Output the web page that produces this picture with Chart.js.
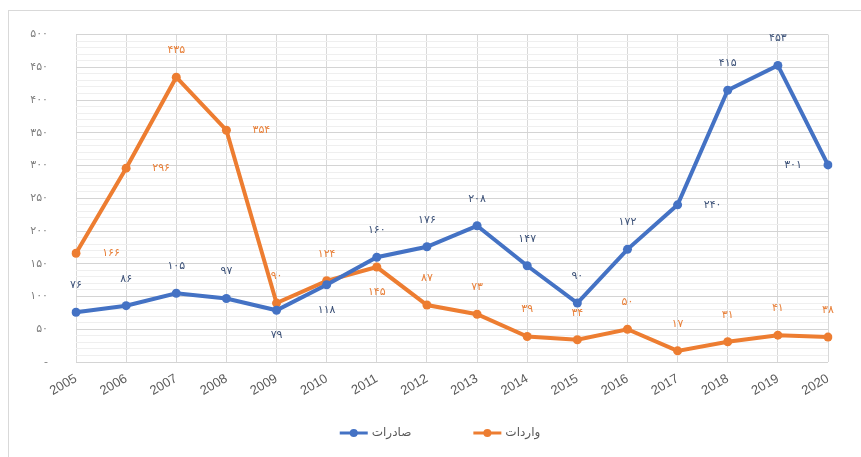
<!DOCTYPE html>
<html>
<head>
<meta charset="utf-8">
<script src="https://cdn.jsdelivr.net/npm/chart.js@4.4.1/dist/chart.umd.min.js"></script>
<style>
    html, body { margin: 0; padding: 0; background: #fff; }
    #marco { position: absolute; left: 8px; top: 10px; width: 900px; height: 500px; border: 1px solid #d9d9d9; }
    #grafico { position: absolute; left: 0; top: 0; }
</style>
</head>
<body>
<div id="marco"></div>
<canvas id="grafico" width="861" height="457"></canvas>
<script>
// Datos del gráfico
const anios = ['2005', '2006', '2007', '2008', '2009', '2010', '2011', '2012', '2013', '2014', '2015', '2016', '2017', '2018', '2019', '2020'];
const saderat = [76, 86, 105, 97, 79, 118, 160, 176, 208, 147, 90, 172, 240, 415, 453, 301];
const varedat = [166, 296, 435, 354, 90, 124, 145, 87, 73, 39, 34, 50, 17, 31, 41, 38];
const nombres = ['صادرات', 'واردات'];

const AZUL = '#4472C4';
const NARANJA = '#ED7D31';

// Posición de cada etiqueta: t arriba, b abajo, r derecha, l izquierda
const posEtiquetas = [
    ['t', 't', 't', 't', 'b', 'b', 't', 't', 't', 't', 't', 't', 'r', 't', 't', 'l'],
    ['r', 'r', 't', 'r', 't', 't', 'b', 't', 't', 't', 't', 't', 't', 't', 't', 't']
];

// Números en cifras persas
function aFarsi(n) {
    return String(n).replace(/\d/g, d => '۰۱۲۳۴۵۶۷۸۹'[d]);
}

// Etiquetas de datos junto a cada punto
const etiquetasPlugin = {
    id: 'etiquetas',
    afterDatasetsDraw(chart) {
        const ctx = chart.ctx;
        ctx.save();
        ctx.font = '11px "DejaVu Sans"';
        ctx.textAlign = 'center';
        ctx.textBaseline = 'middle';
        chart.data.datasets.forEach((ds, i) => {
            const meta = chart.getDatasetMeta(i);
            ctx.fillStyle = i === 0 ? '#3E5379' : '#E8803A';
            meta.data.forEach((pt, j) => {
                let x = pt.x, y = pt.y;
                const p = posEtiquetas[i][j];
                if (p === 't') y -= 27;
                else if (p === 'b') y += 25;
                else if (p === 'r') x += 35;
                else if (p === 'l') x -= 35;
                ctx.fillText(aFarsi(ds.data[j]), x, y);
            });
        });
        ctx.restore();
    }
};

// Leyenda estilo Excel: línea con marcador y texto
const leyendaPlugin = {
    id: 'leyenda',
    afterDraw(chart) {
        const ctx = chart.ctx;
        ctx.save();
        ctx.font = '12px "DejaVu Sans"';
        ctx.textBaseline = 'middle';
        const y = 433;
        const gap = 62;
        const anchos = chart.data.datasets.map(ds => 28 + 4 + ctx.measureText(ds.label).width);
        const total = anchos.reduce((a, b) => a + b, 0) + gap * (anchos.length - 1);
        let x = 440 - total / 2;
        chart.data.datasets.forEach((ds, i) => {
            ctx.strokeStyle = ds.borderColor;
            ctx.lineWidth = 3;
            ctx.beginPath();
            ctx.moveTo(x, y);
            ctx.lineTo(x + 28, y);
            ctx.stroke();
            ctx.fillStyle = ds.borderColor;
            ctx.beginPath();
            ctx.arc(x + 14, y, 4, 0, Math.PI * 2);
            ctx.fill();
            ctx.fillStyle = '#595959';
            ctx.textAlign = 'left';
            ctx.fillText(ds.label, x + 32, y);
            x += anchos[i] + gap;
        });
        ctx.restore();
    }
};

const ctx = document.getElementById('grafico').getContext('2d');
new Chart(ctx, {
    type: 'line',
    data: {
        labels: anios,
        datasets: [
            {
                label: nombres[0],
                data: saderat,
                borderColor: AZUL,
                backgroundColor: AZUL,
                borderWidth: 4,
                pointRadius: 4.5,
                pointBorderWidth: 0,
                pointBackgroundColor: AZUL,
                tension: 0
            },
            {
                label: nombres[1],
                data: varedat,
                borderColor: NARANJA,
                backgroundColor: NARANJA,
                borderWidth: 4,
                pointRadius: 4.5,
                pointBorderWidth: 0,
                pointBackgroundColor: NARANJA,
                tension: 0
            }
        ]
    },
    options: {
        responsive: false,
        animation: false,
        layout: { padding: { left: 0, right: 33, top: 33, bottom: 0 } },
        plugins: {
            legend: { display: false },
            tooltip: { enabled: false }
        },
        scales: {
            x: {
                offset: false,
                grid: { color: '#d9d9d9', drawTicks: false },
                border: { display: false },
                ticks: {
                    minRotation: 30,
                    maxRotation: 30,
                    padding: 9,
                    color: '#595959',
                    font: { family: 'Liberation Sans', size: 13 }
                },
                afterFit(scale) {
                    scale.height = 95;
                    scale.paddingLeft = 0;
                    scale.paddingRight = 0;
                }
            },
            y: {
                min: 0,
                max: 500,
                grid: {
                    drawTicks: false,
                    color: c => (c.tick && c.tick.value % 50 === 0) ? '#d4d4d4' : '#efefef'
                },
                border: { display: false },
                ticks: {
                    stepSize: 10,
                    autoSkip: false,
                    padding: 28,
                    color: '#7f7f7f',
                    font: { family: 'DejaVu Sans', size: 11 },
                    callback: v => v % 50 !== 0 ? '' : (v === 0 ? '-' : aFarsi(v))
                },
                afterFit(scale) {
                    scale.width = 76;
                }
            }
        }
    },
    plugins: [etiquetasPlugin, leyendaPlugin]
});
</script>
</body>
</html>
